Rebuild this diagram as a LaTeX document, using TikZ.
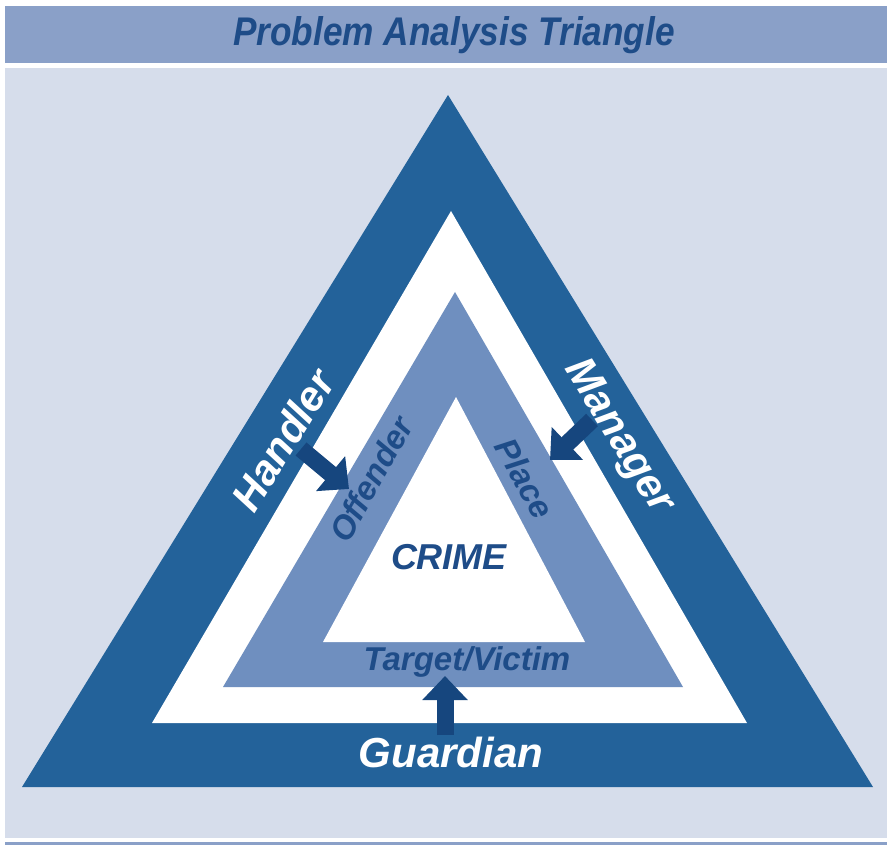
\documentclass[tikz,border=0pt]{standalone}
\usepackage{fontspec}
\setsansfont{Liberation Sans}
\newfontfamily\titlefont[FakeStretch=0.88]{Liberation Sans}
\usetikzlibrary{arrows.meta}

\definecolor{barblue}{RGB}{138,160,200}
\definecolor{panelgray}{RGB}{214,221,235}
\definecolor{darkband}{RGB}{35,98,154}
\definecolor{midband}{RGB}{111,143,191}
\definecolor{labelblue}{RGB}{30,76,136}
\definecolor{pushblue}{RGB}{22,70,126}

\begin{document}
\begin{tikzpicture}[x=1pt, y=-1pt,
    title label/.style={font=\titlefont\bfseries\itshape\fontsize{40}{40}\selectfont, text=labelblue, inner sep=0pt, anchor=base},
    side label/.style={font=\sffamily\bfseries\itshape\fontsize{42}{42}\selectfont, text=white, inner sep=0pt},
    ring label/.style={font=\sffamily\bfseries\itshape\fontsize{33}{33}\selectfont, text=labelblue, inner sep=0pt},
    push/.style={draw=pushblue, line width=17pt, -{Triangle[width=44pt, length=24pt]}}]
                \useasboundingbox (0,0) rectangle (887,845);
                % title bar and panel
                \fill[barblue] (5,6) rectangle (887,63);
                \fill[panelgray] (5,68) rectangle (887,838);
                \fill[barblue] (5,842) rectangle (887,845);
                \node[title label] (title) at (454,46) {Problem Analysis Triangle};
                % nested triangles
                \fill[darkband] (448,95) -- (873,787) -- (22,787) -- cycle;
                \fill[white] (451,211) -- (747,723) -- (152,723) -- cycle;
                \fill[midband] (455,292) -- (683,687) -- (223,687) -- cycle;
                \fill[white] (456,397) -- (585,642) -- (323,642) -- cycle;
                % arrows from controllers to the inner triangle
                \coordinate (handler tail) at (301,449);
                \coordinate (handler tip) at (349,489);
                \coordinate (manager tail) at (592,420);
                \coordinate (manager tip) at (550,460);
                \coordinate (guardian tail) at (445,735);
                \coordinate (guardian tip) at (445,676);
                \draw[push] (handler tail) -- (handler tip);
                \draw[push] (manager tail) -- (manager tip);
                \draw[push] (guardian tail) -- (guardian tip);
                % labels
                \node[side label, rotate=58.4] (handler) at (283,440) {Handler};
                \node[side label, rotate=-58.4] (manager) at (618,437) {Manager};
                \node[side label, anchor=base] (guardian) at (451,767) {Guardian};
                \node[ring label, rotate=61] (offender) at (371,479) {Offender};
                \node[ring label, rotate=-61] (place) at (525,478) {Place};
                \node[ring label, anchor=base] (target) at (467,670) {Target/Victim};
                \node[ring label, anchor=base, font=\sffamily\bfseries\itshape\fontsize{36}{36}\selectfont] (crime) at (449,569) {CRIME};
            \end{tikzpicture}
\end{document}
